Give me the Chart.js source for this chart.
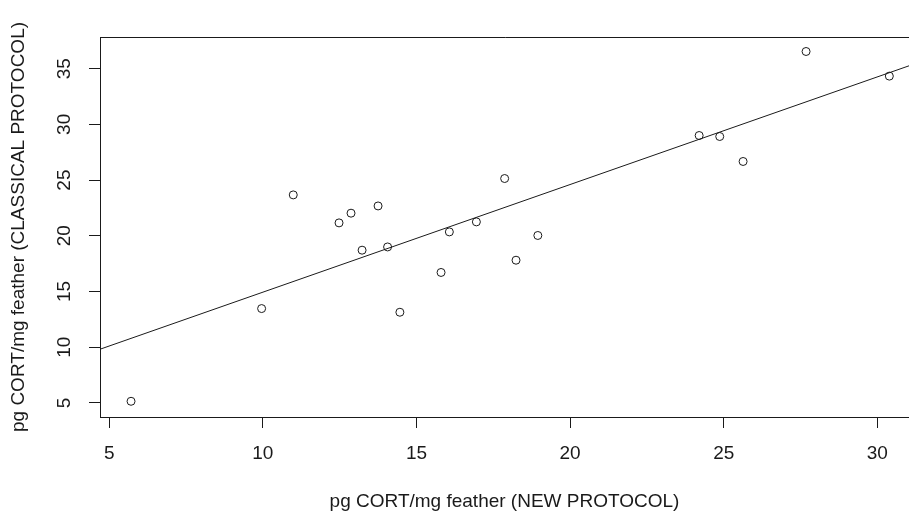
<!DOCTYPE html>
<html>
<head>
<meta charset="utf-8">
<script src="https://cdn.jsdelivr.net/npm/chart.js@4"></script>
<style>
  html, body { margin: 0; padding: 0; background: #fff; }
  #wrap { width: 909px; height: 511px; }
</style>
</head>
<body>
<div id="wrap"><canvas id="c" width="909" height="511"></canvas></div>
<script>
// ---- data ----
const newProtocol = [5.71, 9.96, 10.99, 12.48, 12.87, 13.75, 13.23, 14.06, 14.46, 15.80,
                     16.07, 16.95, 17.87, 18.24, 18.95, 24.20, 24.87, 25.63, 27.68, 30.39];
const classicalProtocol = [5.15, 13.47, 23.67, 21.16, 22.03, 22.68, 18.71, 19.00, 13.14, 16.71,
                           20.35, 21.25, 25.14, 17.81, 20.03, 29.00, 28.91, 26.67, 36.54, 34.33];
const xTickValues = [5, 10, 15, 20, 25, 30];
const yTickValues = [5, 10, 15, 20, 25, 30, 35];
const xRange = [4.70, 31.03];
const yRange = [3.74, 37.84];
const fitIntercept = 5.28;
const fitSlope = 0.966;
const xTitle = 'pg CORT/mg feather (NEW PROTOCOL)';
const yTitle = 'pg CORT/mg feather (CLASSICAL PROTOCOL)';

const points = newProtocol.map((x, i) => ({ x: x, y: classicalProtocol[i] }));
const fitLine = [xRange[0], xRange[1] + 1].map(x => ({ x: x, y: fitIntercept + fitSlope * x }));

const FONT = "'Liberation Sans', Arial, sans-serif";
const INK = '#1a1a1a';

const boxPlugin = {
  id: 'boxTop',
  afterDatasetsDraw(chart) {
    const { ctx, chartArea: a } = chart;
    ctx.save();
    ctx.strokeStyle = INK;
    ctx.lineWidth = 1;
    ctx.beginPath();
    ctx.moveTo(Math.round(a.left) + 0.5, Math.round(a.top) + 0.5);
    ctx.lineTo(a.right + 5, Math.round(a.top) + 0.5);
    ctx.stroke();
    ctx.restore();
  }
};

new Chart(document.getElementById('c'), {
  type: 'scatter',
  data: {
    datasets: [
      {
        data: points,
        pointRadius: 4,
        pointHoverRadius: 4,
        pointBorderWidth: 1,
        pointBorderColor: INK,
        pointBackgroundColor: 'rgba(0,0,0,0)',
        showLine: false
      },
      {
        data: fitLine,
        showLine: true,
        pointRadius: 0,
        borderColor: INK,
        borderWidth: 1,
        fill: false
      }
    ]
  },
  options: {
    responsive: false,
    animation: false,
    devicePixelRatio: 1,
    layout: { autoPadding: false, padding: { top: 37, right: 0, bottom: 0, left: 0 } },
    plugins: { legend: { display: false }, tooltip: { enabled: false } },
    scales: {
      x: {
        type: 'linear',
        min: xRange[0],
        max: xRange[1],
        afterBuildTicks(s) { s.ticks = xTickValues.map(v => ({ value: v })); },
        afterFit(s) { s.height = 94; s.paddingLeft = 0; s.paddingRight = 0; },
        grid: { drawOnChartArea: false, drawTicks: true, tickLength: 11, color: INK, lineWidth: 1 },
        border: { display: true, color: INK, width: 1 },
        ticks: { color: INK, font: { family: FONT, size: 19 }, padding: 14, maxRotation: 0, minRotation: 0 },
        title: { display: true, text: xTitle, color: INK, font: { family: FONT, size: 19, lineHeight: 1 }, padding: { top: 0, bottom: 0 } }
      },
      y: {
        type: 'linear',
        min: yRange[0],
        max: yRange[1],
        afterBuildTicks(s) { s.ticks = yTickValues.map(v => ({ value: v })); },
        afterFit(s) { s.width = 100; s.paddingTop = 0; s.paddingBottom = 0; },
        grid: { drawOnChartArea: false, drawTicks: true, tickLength: 11, color: INK, lineWidth: 1 },
        border: { display: true, color: INK, width: 1 },
        ticks: { color: INK, font: { family: FONT, size: 19 }, padding: 14, minRotation: 90, maxRotation: 90, crossAlign: 'center' },
        title: { display: true, text: yTitle, color: INK, font: { family: FONT, size: 19, lineHeight: 1 }, padding: { top: 9, bottom: 0 } }
      }
    }
  },
  plugins: [boxPlugin]
});
</script>
</body>
</html>
